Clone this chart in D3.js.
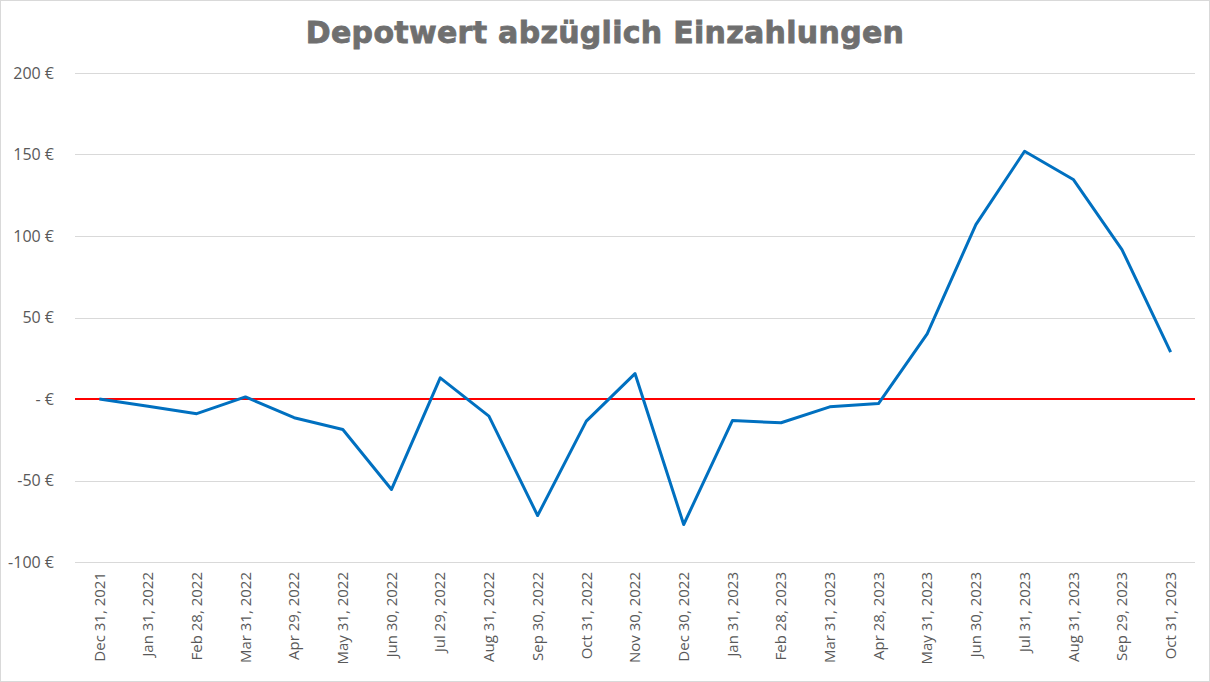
<!DOCTYPE html>
<html>
<head>
<meta charset="utf-8">
<script src="https://cdn.jsdelivr.net/npm/d3@7"></script>
<style>
  body { margin: 0; background: #fff; }
  svg { display: block; }
</style>
</head>
<body>
<div id="chart"></div>
<script>
var width = 1210;
var height = 682;

// data
var dates = ["Dec 31, 2021", "Jan 31, 2022", "Feb 28, 2022", "Mar 31, 2022", "Apr 29, 2022",
  "May 31, 2022", "Jun 30, 2022", "Jul 29, 2022", "Aug 31, 2022", "Sep 30, 2022",
  "Oct 31, 2022", "Nov 30, 2022", "Dec 30, 2022", "Jan 31, 2023", "Feb 28, 2023",
  "Mar 31, 2023", "Apr 28, 2023", "May 31, 2023", "Jun 30, 2023", "Jul 31, 2023",
  "Aug 31, 2023", "Sep 29, 2023", "Oct 31, 2023"];
var values = [0, -4.5, -9, 1.3, -11.5, -18.7, -55.5, 13, -10.5, -71.5,
  -13.6, 15.6, -77, -13.2, -14.6, -4.8, -2.8, 40, 107, 152,
  134.7, 91.7, 28.7];
var yTicks = [-100, -50, 0, 50, 100, 150, 200];

var margin = {top: 73, right: 15, bottom: 120, left: 75};

var svg = d3.select('#chart')
  .append('svg')
  .attr('width', width)
  .attr('height', height);

// outer border
svg.append('rect')
  .attr('x', 0.5).attr('y', 0.5)
  .attr('width', width - 1).attr('height', height - 1)
  .attr('fill', '#fff')
  .attr('stroke', '#d9d9d9');

var x = d3.scaleBand()
  .domain(dates)
  .range([margin.left, width - margin.right]);

var y = d3.scaleLinear()
  .domain([-100, 200])
  .range([562, margin.top]);

// title
svg.append('text')
  .attr('x', 605)
  .attr('y', 43)
  .attr('text-anchor', 'middle')
  .attr('fill', '#6f6f6f')
  .attr('stroke', '#6f6f6f')
  .attr('stroke-width', 0.8)
  .style('font-family', 'DejaVu Sans')
  .style('font-weight', 'bold')
  .style('font-size', '30px')
  .style('letter-spacing', '0.3px')
  .text('Depotwert abzüglich Einzahlungen');

// gridlines
svg.append('g')
  .selectAll('line')
  .data(yTicks)
  .enter()
  .append('line')
  .attr('x1', margin.left)
  .attr('x2', width - margin.right)
  .attr('y1', function(d){ return Math.round(y(d)) + 0.5; })
  .attr('y2', function(d){ return Math.round(y(d)) + 0.5; })
  .attr('stroke', '#d9d9d9');

// y axis labels
var yAxis = d3.axisLeft(y)
  .tickValues(yTicks)
  .tickSize(0)
  .tickPadding(0)
  .tickFormat(function(d){ return d === 0 ? '- €' : d + ' €'; });

svg.append('g')
  .attr('transform', 'translate(54,0)')
  .call(yAxis)
  .call(function(g){ g.select('.domain').remove(); })
  .selectAll('text')
  .attr('fill', '#595959')
  .style('font-family', 'Open Sans')
  .style('font-size', '16px');

// x axis labels
var xAxis = d3.axisBottom(x)
  .tickSize(0)
  .tickPadding(0);

svg.append('g')
  .attr('transform', 'translate(0,572)')
  .call(xAxis)
  .call(function(g){ g.select('.domain').remove(); })
  .selectAll('text')
  .attr('fill', '#595959')
  .style('font-family', 'Open Sans')
  .style('font-size', '15px')
  .attr('text-anchor', 'end')
  .attr('dy', '0.35em')
  .attr('dx', 0)
  .attr('y', 0)
  .attr('transform', 'rotate(-90)');

// zero line
svg.append('line')
  .attr('x1', margin.left)
  .attr('x2', width - margin.right)
  .attr('y1', y(0))
  .attr('y2', y(0))
  .attr('stroke', '#ff0000')
  .attr('stroke-width', 2);

// value line
var line = d3.line()
  .x(function(d, i){ return x(dates[i]) + x.bandwidth() / 2; })
  .y(function(d){ return y(d); });

svg.append('path')
  .datum(values)
  .attr('d', line)
  .attr('fill', 'none')
  .attr('stroke', '#0070c0')
  .attr('stroke-width', 3)
  .attr('stroke-linejoin', 'round');
</script>
</body>
</html>
